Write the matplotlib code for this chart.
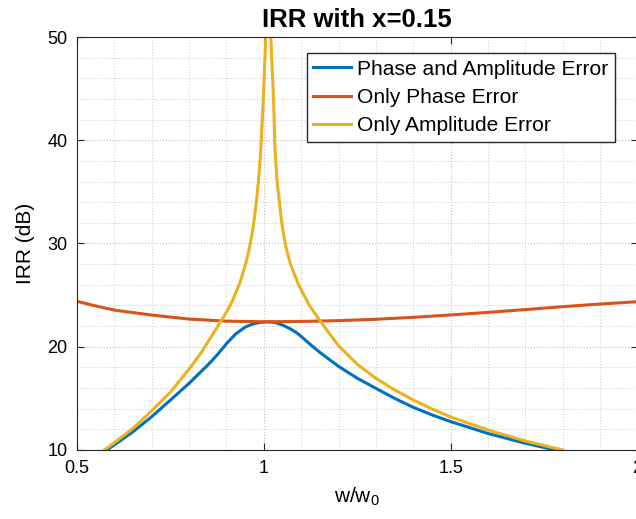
import numpy as np
import matplotlib
matplotlib.use("Agg")
import matplotlib.pyplot as plt
from matplotlib.ticker import MultipleLocator

plt.rcParams['font.family'] = ['Liberation Sans', 'DejaVu Sans']
plt.rcParams['mathtext.fontset'] = 'custom'
plt.rcParams['mathtext.rm'] = 'Liberation Sans'

# values (w/w0, dB)
w_both = [0.5795, 0.6, 0.65, 0.7, 0.75, 0.8, 0.85, 0.875, 0.9, 0.925, 0.95,
          0.97, 0.99, 1.01, 1.03, 1.05, 1.07, 1.09, 1.1, 1.125, 1.15, 1.2,
          1.25, 1.3, 1.35, 1.4, 1.45, 1.5, 1.6, 1.7, 1.78]
irr_both = [10.0, 10.5, 11.77, 13.23, 14.84, 16.46, 18.23, 19.2, 20.3, 21.25,
            21.9, 22.2, 22.36, 22.42, 22.35, 22.1, 21.75, 21.3, 21.0, 20.2,
            19.45, 18.1, 16.95, 15.97, 15.0, 14.13, 13.4, 12.75, 11.6, 10.65,
            10.0]

w_phase = [0.5, 0.55, 0.6, 0.7, 0.8, 0.9, 1.0, 1.1, 1.2, 1.3, 1.4, 1.5, 1.6,
           1.7, 1.8, 1.9, 2.0]
irr_phase = [24.4, 23.95, 23.55, 23.07, 22.68, 22.48, 22.42, 22.45, 22.53,
             22.66, 22.85, 23.08, 23.33, 23.6, 23.88, 24.14, 24.36]

w_amp = [0.573, 0.6, 0.65, 0.7, 0.75, 0.8, 0.83, 0.85, 0.8695, 0.8855, 0.9,
         0.918, 0.936, 0.952, 0.964, 0.973, 0.98, 0.9855, 0.9918, 0.9988,
         1.0052, 1.012, 1.0186, 1.026, 1.030, 1.0355, 1.0417, 1.048, 1.0569,
         1.071, 1.093, 1.122, 1.152, 1.175, 1.2, 1.25, 1.3, 1.35, 1.4, 1.45,
         1.5, 1.6, 1.7, 1.8]
irr_amp = [10.0, 10.7, 12.1, 13.8, 15.6, 17.85, 19.3, 20.45, 21.55, 22.5,
           23.35, 24.6, 26.2, 28.1, 30.0, 32.0, 34.0, 36.0, 39.0, 44.2, 50.0,
           80.0, 50.0, 44.0, 39.0, 36.0, 34.0, 32.0, 30.0, 28.0, 26.0, 24.0,
           22.45, 21.3, 20.1, 18.3, 16.94, 15.82, 14.84, 13.98, 13.2, 11.94,
           10.87, 10.0]

labels = ['Phase and Amplitude Error', 'Only Phase Error', 'Only Amplitude Error']
colors = ['#0072BD', '#D95319', '#EDB120']

fig = plt.figure(figsize=(6.36, 5.19), dpi=100)
ax = fig.add_axes([77 / 636, 1 - 450 / 519, 560.5 / 636, 413 / 519])

ax.plot(w_both, irr_both, color=colors[0], lw=2.2, label=labels[0])
ax.plot(w_phase, irr_phase, color=colors[1], lw=2.2, label=labels[1])
ax.plot(w_amp, irr_amp, color=colors[2], lw=2.2, label=labels[2])

ax.set_xlim(0.5, 2.0)
ax.set_ylim(10, 50)
ax.xaxis.set_minor_locator(MultipleLocator(0.1))
ax.yaxis.set_major_locator(MultipleLocator(10))
ax.yaxis.set_minor_locator(MultipleLocator(2))
ax.set_xticks([0.5, 1.0, 1.5, 2.0])
ax.set_xticklabels(['0.5', '1', '1.5', '2'])

ax.grid(True, which='major', ls=':', color='#bdbdbd', lw=0.8)
ax.grid(True, which='minor', ls=':', color='#d2d2d2', lw=0.8)
ax.set_axisbelow(True)

for s in ax.spines.values():
    s.set_color('#262626')
    s.set_linewidth(0.8)
ax.tick_params(which='major', direction='in', length=5, width=0.8,
               color='#262626', top=True, right=True, labelsize=13, pad=7)
ax.tick_params(which='minor', length=0, top=True, right=True)

ax.set_title('IRR with x=0.15', fontsize=18.5, fontweight='bold', pad=7)
ax.set_xlabel(r'w/w$_\mathregular{0}$', fontsize=15, labelpad=6)
ax.set_ylabel('IRR (dB)', fontsize=15, labelpad=9)

leg = ax.legend(loc='upper right', bbox_to_anchor=(0.9599, 0.9605),
                borderaxespad=0, fontsize=15.1, handlelength=1.8,
                handletextpad=0.3, labelspacing=0.45, borderpad=0.3,
                fancybox=False, framealpha=1)
leg.get_frame().set_edgecolor('#262626')
leg.get_frame().set_linewidth(1.0)

fig.savefig('out.png', dpi=100)
